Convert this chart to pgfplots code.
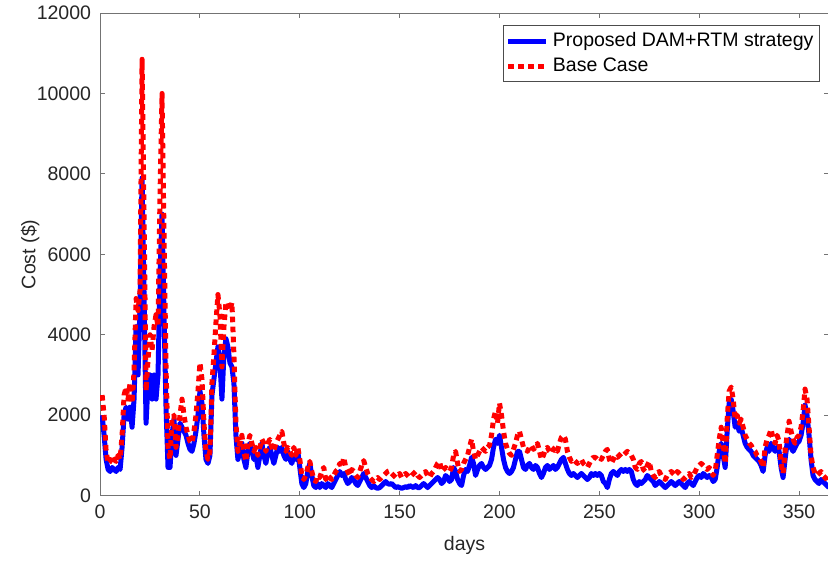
\documentclass[border=0pt]{standalone}
\usepackage{pgfplots}
\pgfplotsset{compat=1.18}
\usepackage{pgfplotstable}
\usepackage{fontspec}
\setmainfont{Liberation Sans}
\pgfplotstableread{
d b r
1 2000 2500
2 1500 2000
3 900 1100
4 650 800
5 600 850
6 700 1000
7 650 900
8 600 850
9 700 1000
10 650 900
11 1200 1500
12 2000 2500
13 2200 2700
14 1900 2400
15 2200 2800
16 1700 2300
17 2400 3100
18 4200 4900
19 3000 4600
20 4800 5100
21 7900 10850
22 5000 7000
23 1800 2600
24 2800 3400
25 3000 4000
26 2400 3600
27 3000 4200
28 2400 4500
29 3000 4200
30 5500 7500
31 7000 10000
32 4500 6500
33 2200 3200
34 700 1200
35 700 900
36 1500 1900
37 1900 2000
38 1000 1200
39 1400 1500
40 1800 2000
41 1700 2400
42 1600 2000
43 1500 1700
44 1300 1500
45 1150 1350
46 1100 1300
47 1300 1600
48 1600 2000
49 2000 2600
50 2600 3300
51 2300 2900
52 1500 1800
53 900 1100
54 800 900
55 1000 1100
56 2500 2800
57 2900 3500
58 3300 4300
59 3700 5000
60 3300 4500
61 2400 3200
62 3500 4200
63 3900 4800
64 3700 4800
65 3300 4600
66 3200 4800
67 2800 3500
68 1500 1800
69 900 1100
70 1100 1300
71 1300 1500
72 900 1100
73 700 850
74 1100 1300
75 1300 1500
76 1100 1300
77 900 1100
78 1000 1200
79 700 1000
80 1000 1200
81 1300 1400
82 1000 1300
83 800 1100
84 1100 1300
85 1200 1400
86 1000 1200
87 800 1100
88 1000 1300
89 1200 1400
90 1100 1500
91 1200 1600
92 1000 1300
93 900 1100
94 1100 1200
95 900 1100
96 800 1000
97 1000 1200
98 900 1000
99 1100 1200
100 700 900
101 300 500
102 200 400
103 300 500
104 600 700
105 800 850
106 500 600
107 250 400
108 200 350
109 300 500
110 200 450
111 300 600
112 250 700
113 200 400
114 300 500
115 250 450
116 200 400
117 300 500
118 400 600
119 500 650
120 600 800
121 500 700
122 550 950
123 400 700
124 300 600
125 350 500
126 450 650
127 400 600
128 300 500
129 250 450
130 350 600
131 450 750
132 550 870
133 450 700
134 350 550
135 250 450
136 200 400
137 250 350
138 200 400
139 180 450
140 200 400
141 250 450
142 300 500
143 350 550
144 300 600
145 280 620
146 300 550
147 250 500
148 200 450
149 220 500
150 200 550
151 180 450
152 200 500
153 220 550
154 200 500
155 250 450
156 220 500
157 200 550
158 250 600
159 200 500
160 200 450
161 250 500
162 300 550
163 250 600
164 200 500
165 250 450
166 300 550
167 350 600
168 400 700
169 450 800
170 400 850
171 300 600
172 350 650
173 500 700
174 450 650
175 350 600
176 400 700
177 700 1000
178 600 1100
179 400 800
180 300 600
181 250 650
182 500 800
183 650 900
184 600 1000
185 750 1200
186 950 1400
187 800 1100
188 500 900
189 650 1000
190 750 1100
191 800 1200
192 700 1150
193 650 1100
194 700 1200
195 750 1250
196 900 1500
197 1200 1900
198 1400 2100
199 1300 1800
200 1500 2300
201 1200 2000
202 900 1600
203 700 1300
204 600 1150
205 550 1050
206 600 1000
207 700 1150
208 900 1300
209 1100 1500
210 1100 1600
211 900 1400
212 700 1200
213 650 1150
214 750 1100
215 800 1200
216 700 1250
217 650 1150
218 750 1200
219 700 1300
220 550 1100
221 450 900
222 550 1000
223 700 1150
224 750 1200
225 650 1100
226 700 1050
227 750 1150
228 650 1200
229 700 1100
230 800 1300
231 900 1450
232 950 1500
233 800 1400
234 650 1100
235 550 950
236 500 850
237 550 900
238 500 850
239 450 800
240 500 850
241 550 900
242 500 800
243 450 750
244 400 700
245 450 800
246 550 900
247 500 950
248 550 950
249 500 900
250 550 950
251 500 900
252 350 1000
253 300 1100
254 200 1150
255 400 900
256 550 800
257 600 900
258 550 1000
259 500 950
260 600 1000
261 650 1050
262 600 1000
263 650 1050
264 600 1100
265 650 1050
266 600 1000
267 400 900
268 300 700
269 250 650
270 350 800
271 300 850
272 350 650
273 400 600
274 500 750
275 450 850
276 400 600
277 350 500
278 250 450
279 300 550
280 350 600
281 300 500
282 250 450
283 200 400
284 250 500
285 300 550
286 350 600
287 300 550
288 250 500
289 300 600
290 350 550
291 300 500
292 250 400
293 200 450
294 300 500
295 350 550
296 300 450
297 250 500
298 350 600
299 450 700
300 500 750
301 450 800
302 550 750
303 500 700
304 450 650
305 500 700
306 450 600
307 350 500
308 400 600
309 700 1000
310 1100 1400
311 1300 1700
312 1000 1300
313 700 800
314 1600 1900
315 2300 2600
316 2400 2700
317 2100 2400
318 1700 1900
319 1800 2000
320 1600 1800
321 1700 1900
322 1500 1700
323 1300 1500
324 1200 1400
325 1150 1300
326 1100 1250
327 1000 1150
328 950 1100
329 900 1000
330 850 950
331 750 850
332 600 700
333 1000 1200
334 1200 1400
335 1100 1500
336 1300 1650
337 1200 1400
338 1100 1300
339 1200 1500
340 1100 1350
341 700 800
342 450 550
343 900 1100
344 1300 1500
345 1400 1850
346 1200 1600
347 1100 1400
348 1200 1300
349 1300 1450
350 1350 1500
351 1500 1700
352 1800 2100
353 2250 2650
354 2000 2400
355 1500 1700
356 900 1000
357 500 700
358 400 550
359 350 500
360 300 550
361 400 600
362 350 500
363 300 450
364 250 400
365 200 300
}\costdata
\definecolor{mblue}{RGB}{0,0,255}
\definecolor{mred}{RGB}{255,0,0}
\begin{document}
\begin{tikzpicture}
\begin{axis}[
  name=ax,
  scale only axis,
  width=364pt, height=241pt,
  xmin=0, xmax=365, ymin=0, ymax=12000,
  xtick={0,50,...,350},
  ytick={0,2000,...,12000},
  scaled ticks=false,
  /pgf/number format/1000 sep={},
  /pgf/number format/assume math mode=true,
  tick align=inside,
  tick pos=both,
  major tick length=2.5pt,
  axis line style={black!55, line width=0.5pt},
  every tick/.style={black!55, line width=0.5pt},
  ticklabel style={font=\fontsize{9.75}{11}\selectfont, text=black!85},
  xticklabel style={yshift=-1pt},
  yticklabel style={xshift=-1pt},
  xlabel={days},
  ylabel={Cost (\$)},
  label style={font=\fontsize{9.75}{11}\selectfont, text=black!85},
  xlabel style={at={(axis description cs:0.5,-0.104)}, anchor=center},
  ylabel style={at={(axis description cs:-0.096,0.5)}, anchor=center},
  legend style={at={(1,1)}, anchor=north east, xshift=-4.5pt, yshift=-6pt,
    draw=black!70, line width=0.5pt, font=\fontsize{9.75}{11}\selectfont,
    inner xsep=1pt, inner ysep=1.5pt, row sep=0pt,
    cells={anchor=west}},
  legend cell align=left,
  legend image code/.code={\draw[#1] (0pt,0pt) -- (19pt,0pt);},
]
\addplot[mblue, line width=2.5pt, line join=round] table[x=d, y=b] {\costdata};
\addlegendentry{Proposed DAM+RTM strategy}
\addplot[mred, line width=2.5pt, line join=round, dash pattern=on 2.8pt off 2.2pt] table[x=d, y=r] {\costdata};
\addlegendentry{Base Case}
\end{axis}
\pgfresetboundingbox
\path ([xshift=-50pt,yshift=-33.5pt]ax.south west) rectangle ([xshift=-0.5pt,yshift=6.5pt]ax.north east);
\end{tikzpicture}
\end{document}
